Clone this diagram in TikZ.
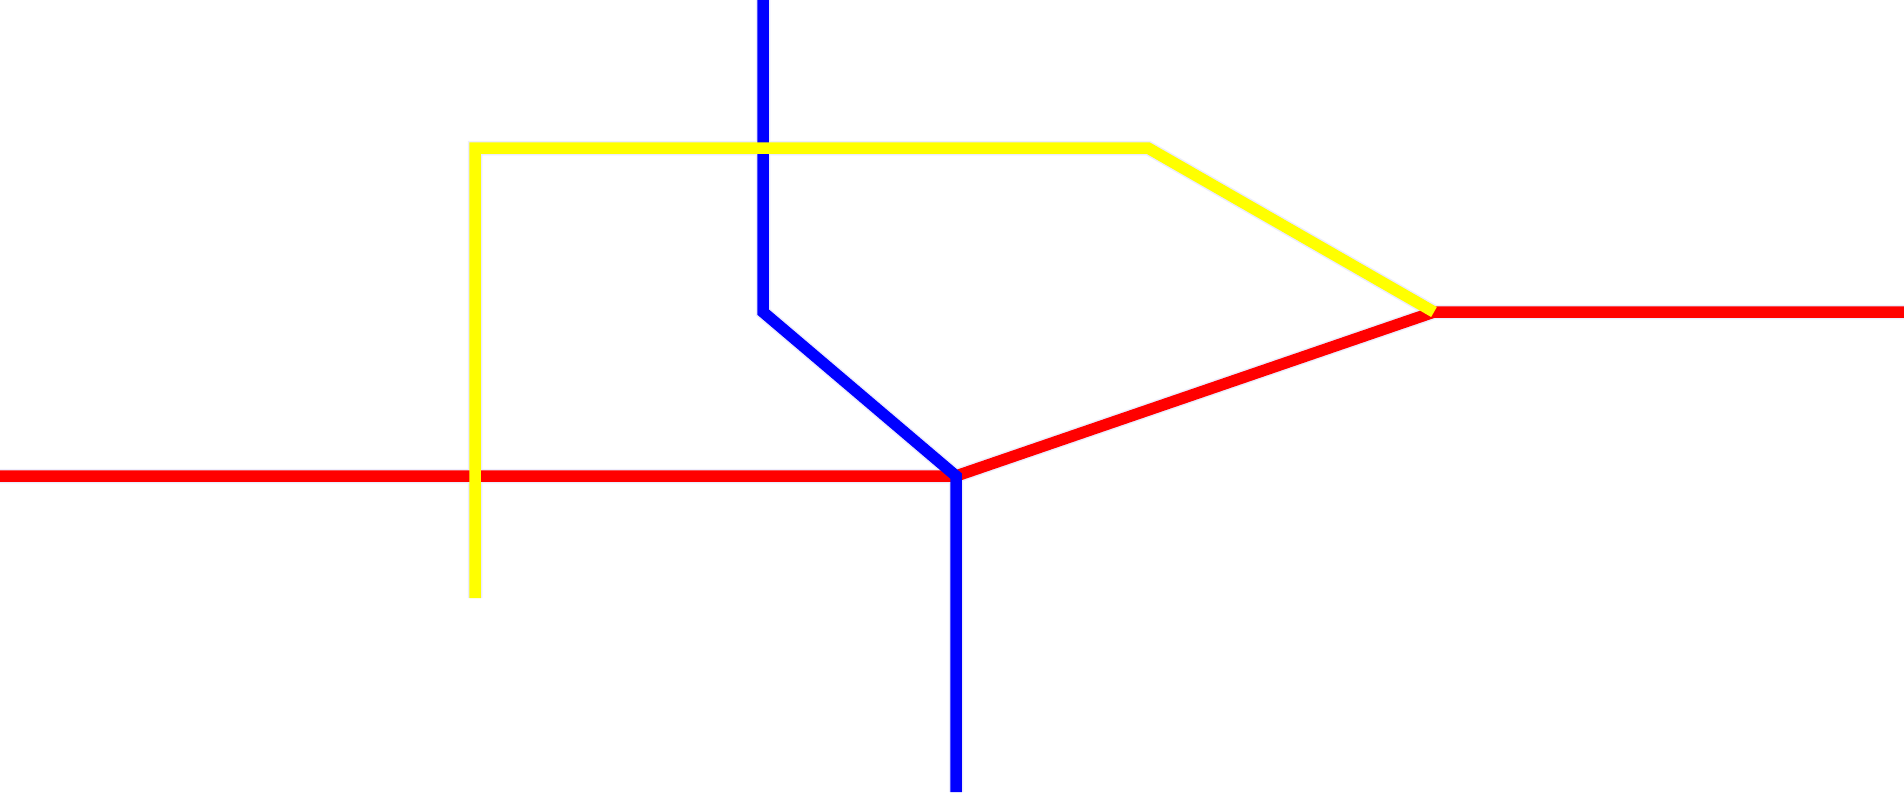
\documentclass[tikz,border=0pt]{standalone}
\usepackage{tikz}
\definecolor{lineyellow}{RGB}{255,255,0}
\definecolor{linered}{RGB}{255,0,0}
\definecolor{lineblue}{RGB}{0,0,255}

\begin{document}
\begin{tikzpicture}[x=0.02cm,y=-0.02cm,
    route/.style={line width=0.23cm,line join=miter},
    halo/.style={line width=0.29cm,color={rgb,255:red,236;green,236;blue,252}}]
  \useasboundingbox (0,0) rectangle (1904,792);
  % red line
  \coordinate (RW) at (0,476);
  \coordinate (RJ) at (956,476);
  \coordinate (RE) at (1434,312);
  \coordinate (RX) at (1904,312);
  % blue line
  \coordinate (BN) at (763,0);
  \coordinate (BK) at (763,312);
  \coordinate (BS) at (956,792);
  % yellow line
  \coordinate (YS) at (475,598);
  \coordinate (YC) at (475,148);
  \coordinate (YK) at (1148,148);
  % soft edges
  \draw[halo] (RW) -- (RJ) -- (RE) -- (RX);
  \draw[halo] (BN) -- (BK) -- (RJ) -- (BS);
  \draw[halo] (YS) -- (YC) -- (YK) -- (RE);
  % lines
  \draw[route,linered] (RW) -- (RJ) -- (RE) -- (RX);
  \draw[route,lineblue] (BN) -- (BK) -- (RJ) -- (BS);
  \draw[route,lineyellow] (YS) -- (YC) -- (YK) -- (RE);
\end{tikzpicture}
\end{document}
